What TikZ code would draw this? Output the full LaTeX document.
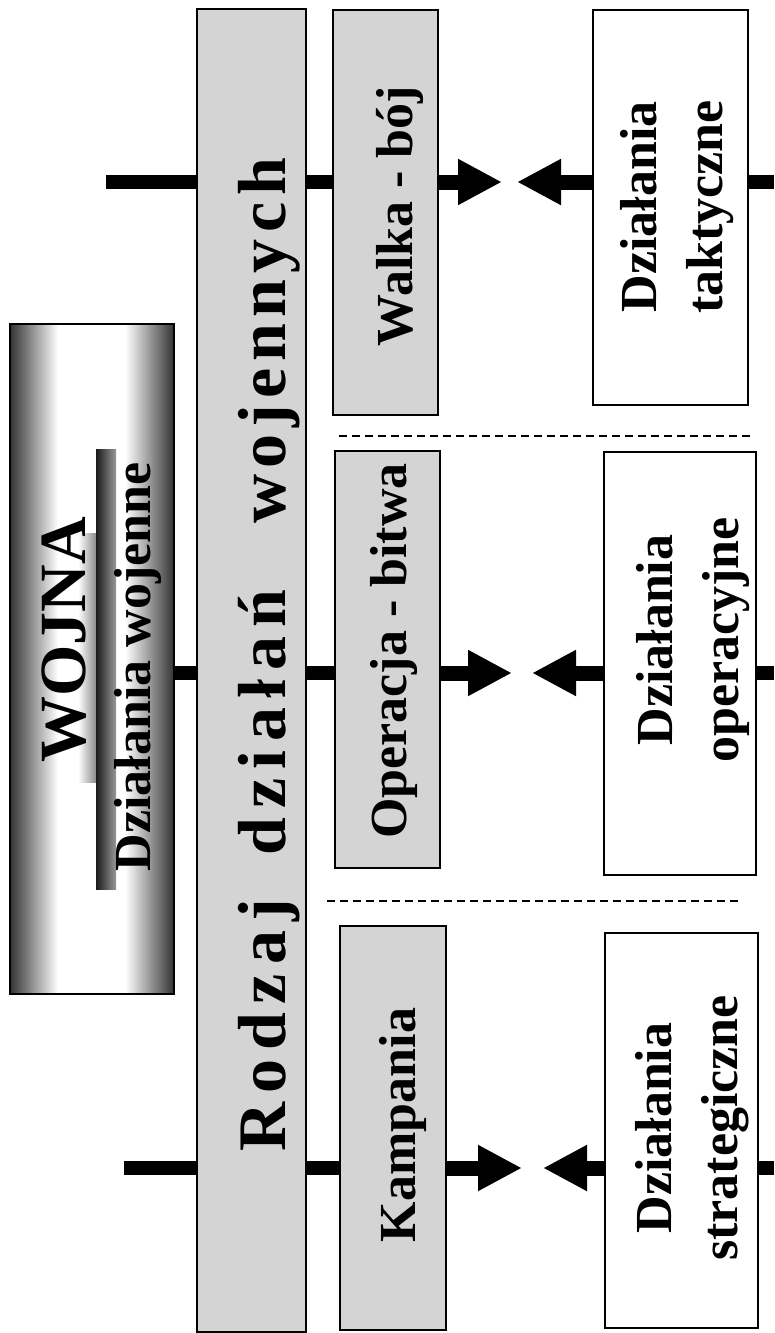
\documentclass[tikz,border=0pt]{standalone}
\usepackage{fontspec}
\setmainfont{Liberation Serif}
\usetikzlibrary{arrows.meta,positioning}

\tikzset{
	box/.style={draw, line width=1.5pt, inner sep=0pt, outer sep=0pt},
	graybox/.style={box, fill=black!17},
	whitebox/.style={box, fill=white},
	txt/.style={rotate=90, anchor=base, inner sep=0pt, align=center,
		font=\bfseries\fontsize{52}{66}\selectfont},
	bar/.style={line width=14pt},
	bigarrow/.style={line width=15pt, -{Triangle[length=44pt,width=43pt]}},
	divider/.style={line width=2pt, dash pattern=on 8pt off 5pt},
}

\begin{document}
\begin{tikzpicture}[x=1pt,y=-1pt]

\useasboundingbox (0,0) rectangle (774,1333);

% WOJNA - cieniowanie
\shade[left color=black!80, right color=white] (10,324) rectangle (58,994);
\shade[left color=white, right color=black!80] (125,324) rectangle (174,994);
\shade[left color=white, right color=black!45] (78,533) rectangle (96,782);
\shade[left color=black!90, right color=black!40] (96,449) rectangle (116,889);

% ramki
\node[box, minimum width=164pt, minimum height=670pt] (wojna) at (92,659) {};
\node[graybox, minimum width=109pt, minimum height=1323pt] (rodzaj) at (251.5,670.5) {};
\node[graybox, minimum width=105pt, minimum height=405pt] (walka) at (385.5,212.5) {};
\node[graybox, minimum width=105pt, minimum height=417pt] (operacja) at (387.5,659.5) {};
\node[graybox, minimum width=106pt, minimum height=404pt] (kampania) at (393,1128) {};
\node[whitebox, minimum width=155pt, minimum height=395pt] (taktyczne) at (670.5,207.5) {};
\node[whitebox, minimum width=152pt, minimum height=423pt] (operacyjne) at (680,663.5) {};
\node[whitebox, minimum width=153pt, minimum height=395pt] (strategiczne) at (681.5,1130.5) {};

% napisy
\node[txt, font=\bfseries\fontsize{66}{70}\selectfont] (wojnatxt) at (85,640) {WOJNA};
\node[txt] (wojennetxt) at (150,667) {Działania wojenne};
\node[txt, font=\bfseries\fontsize{68}{70}\selectfont] (rodzajtxt) at (285,655)
	{{\spaceskip=9pt\relax R o d z a j}\hspace{44pt}{\spaceskip=9pt\relax d z i a ł a ń}\hspace{66pt}{\spaceskip=6.5pt\relax w o j e n n y c h}};
\node[txt] (walkatxt) at (412,216) {Walka - bój};
\node[txt] (operacjatxt) at (406,651) {Operacja - bitwa};
\node[txt] (kampaniatxt) at (415,1125) {Kampania};
\node[txt] (taktycznetxt) at (722,207) {Działania\\taktyczne};
\node[txt] (operacyjnetxt) at (738,640) {Działania\\operacyjne};
\node[txt] (strategicznetxt) at (737,1128) {Działania\\strategiczne};

% poziomy
\coordinate (r1) at (0,182);
\coordinate (r2) at (0,673);
\coordinate (r3) at (0,1168);
\coordinate (l1) at (106,182);
\coordinate (l3) at (124,1168);
\coordinate (e1) at (774,182);
\coordinate (e2) at (774,673);
\coordinate (e3) at (774,1168);
\coordinate (t1a) at (502,182);
\coordinate (t1b) at (517,182);
\coordinate (t2a) at (512,673);
\coordinate (t2b) at (532,673);
\coordinate (t3a) at (522,1168);
\coordinate (t3b) at (543,1168);

% polaczenia
\draw[bar] (l1) -- (rodzaj.west |- r1);
\draw[bar] (wojna.east |- r2) -- (rodzaj.west |- r2);
\draw[bar] (l3) -- (rodzaj.west |- r3);
\draw[bar] (rodzaj.east |- r1) -- (walka.west |- r1);
\draw[bar] (rodzaj.east |- r2) -- (operacja.west |- r2);
\draw[bar] (rodzaj.east |- r3) -- (kampania.west |- r3);

\draw[bigarrow] (walka.east |- r1) -- (t1a);
\draw[bigarrow] (taktyczne.west |- r1) -- (t1b);
\draw[bigarrow] (operacja.east |- r2) -- (t2a);
\draw[bigarrow] (operacyjne.west |- r2) -- (t2b);
\draw[bigarrow] (kampania.east |- r3) -- (t3a);
\draw[bigarrow] (strategiczne.west |- r3) -- (t3b);

\draw[bar] (taktyczne.east |- r1) -- (e1);
\draw[bar] (operacyjne.east |- r2) -- (e2);
\draw[bar] (strategiczne.east |- r3) -- (e3);

% linie przerywane
\draw[divider] (339,436) -- (754,436);
\draw[divider] (327,901) -- (742,901);

\end{tikzpicture}
\end{document}
